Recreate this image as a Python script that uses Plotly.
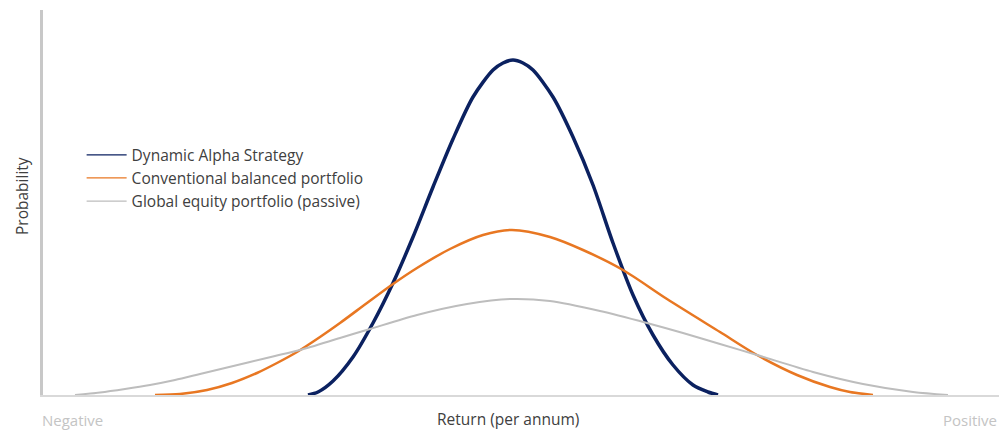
import plotly.graph_objects as go

# x position along the return axis, height of the probability curve
dyn_x = [308, 318, 333, 353, 373, 393, 413, 433, 453, 473, 493, 503, 513,
         523, 533, 553, 573, 593, 613, 633, 653, 673, 693, 708, 718]
dyn_y = [0, 3, 14, 38, 72, 112, 158, 208, 256, 298, 325, 332, 335,
         332, 325, 298, 258, 210, 152, 100, 60, 30, 10, 3, 0]

bal_x = [155, 180, 207, 232, 257, 277, 297, 320, 340, 367, 393, 417, 450, 483, 512,
         550, 583, 623, 667, 720, 757, 797, 830, 850, 873]
bal_y = [0, 1, 5, 12, 22, 32, 43, 58, 72, 92, 111, 127, 146, 160, 165,
         158, 145, 125, 96, 63, 40, 20, 8, 3, 0]

eq_x = [75, 100, 125, 150, 175, 200, 225, 250, 275, 300, 340, 370, 417, 467, 510,
        550, 600, 647, 683, 720, 757, 813, 863, 913, 948]
eq_y = [0, 2.5, 6, 10, 15, 21, 27, 33, 39, 45, 57, 66, 80, 91, 96,
        94, 84, 72, 62, 51, 40, 23, 11, 3, 0]

names = ["Dynamic Alpha Strategy", "Conventional balanced portfolio",
         "Global equity portfolio (passive)"]
colors = ["#0b2160", "#e87722", "#bdbdbd"]
widths = [3.5, 2.5, 2]

fig = go.Figure()
for xs, ys, c, w in zip([dyn_x, bal_x, eq_x], [dyn_y, bal_y, eq_y], colors, widths):
    fig.add_trace(go.Scatter(x=xs, y=ys, mode="lines",
                             line=dict(color=c, width=w, shape="spline", smoothing=0.8),
                             showlegend=False, hoverinfo="skip"))
# legend entries (thin lines as in the reference)
for n, c in zip(names, colors):
    fig.add_trace(go.Scatter(x=[None], y=[None], mode="lines", name=n,
                             line=dict(color=c, width=1.2)))

txt = "#404040"
fs = 15.5
fig.update_layout(
    width=999, height=431,
    margin=dict(l=43, r=0, t=10, b=36),
    paper_bgcolor="white", plot_bgcolor="white",
    font=dict(family="Open Sans", size=fs, color=txt),
    showlegend=True,
    legend=dict(x=0.0404, y=0.667, xanchor="left", yanchor="top",
                bgcolor="rgba(0,0,0,0)", font=dict(size=fs, color=txt),
                itemwidth=40, tracegroupgap=0),
    xaxis=dict(range=[43, 999], showgrid=False, zeroline=False, showticklabels=False,
               ticks="", showline=True, linecolor="#d9d9d9", linewidth=1.5),
    yaxis=dict(range=[0, 385], showgrid=False, zeroline=False, showticklabels=False,
               ticks="", showline=True, linecolor="#c8c8c8", linewidth=2.5),
    annotations=[
        dict(text="Return (per annum)", xref="x", yref="paper", x=508, y=0, xanchor="center",
             yanchor="middle", yshift=-24, showarrow=False, font=dict(size=fs, color=txt)),
        dict(text="Probability", xref="paper", yref="y", x=0, y=199, xanchor="center",
             yanchor="middle", xshift=-21, textangle=-90, showarrow=False,
             font=dict(size=fs, color=txt)),
        dict(text="Negative", xref="paper", yref="paper", x=0, y=0, xanchor="left", yanchor="middle",
             yshift=-25, xshift=-3, showarrow=False, font=dict(size=15, color="#c4c4c4")),
        dict(text="Positive", xref="paper", yref="paper", x=1, y=0, xanchor="right", yanchor="middle",
             yshift=-25, showarrow=False, font=dict(size=15, color="#c4c4c4")),
    ],
)
fig.write_html("out.html", config={"displayModeBar": False},
               post_script="document.body.style.margin='0px';")
